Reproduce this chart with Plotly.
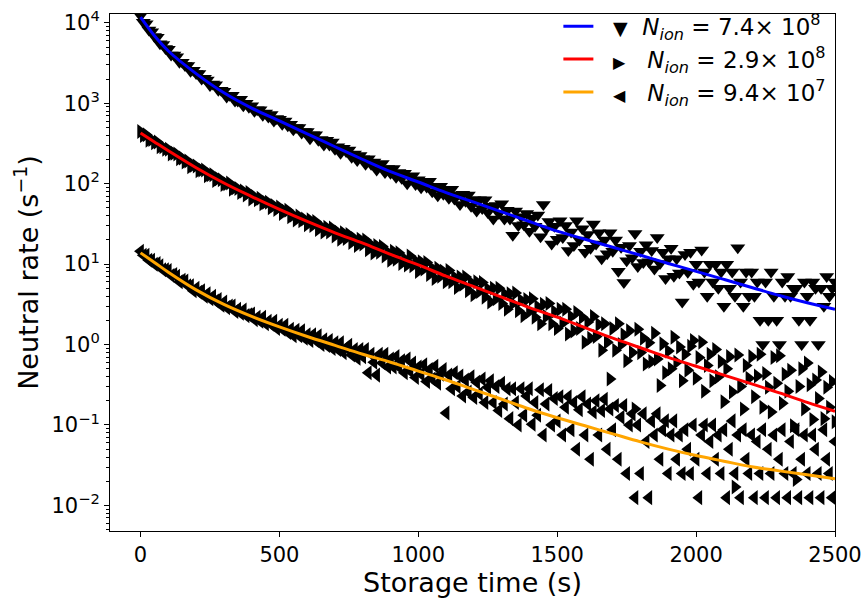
import plotly.graph_objects as go

# Storage-time bins (s) of the measured neutral rates
T = list(range(0, 2501, 10))

RATE_74E8 = [
    12300, 10200, 9770, 8130, 7760, 6760, 6610, 5500, 5370, 4790,
    4680, 3980, 3980, 3800, 3240, 3240, 2950, 2950, 2510, 2570,
    2340, 2340, 2000, 2040, 1950, 1660, 1740, 1700, 1450, 1450,
    1410, 1200, 1260, 1260, 1070, 1070, 1120, 933, 1000, 891,
    933, 794, 832, 832, 708, 759, 676, 724, 603, 646,
    631, 550, 603, 525, 550, 468, 501, 501, 427, 447,
    447, 363, 407, 407, 347, 355, 302, 347, 302, 331,
    269, 288, 240, 275, 251, 263, 214, 234, 195, 224,
    204, 174, 204, 174, 186, 148, 170, 178, 138, 155,
    135, 155, 120, 138, 117, 135, 100, 120, 126, 97.7,
    112, 89.1, 107, 91.2, 107, 79.4, 93.3, 70.8, 93.3, 74.1,
    85.1, 66.1, 85.1, 64.6, 72.4, 55.0, 74.1, 60.3, 72.4, 52.5,
    63.1, 45.7, 63.1, 49.0, 63.1, 43.7, 52.5, 36.3, 53.7, 42.7,
    56.2, 36.3, 46.8, 36.3, 22.9, 45.7, 30.2, 38.9, 30.9, 42.7,
    25.7, 37.2, 29.5, 40.7, 21.9, 55.0, 27.5, 33.9, 17.8, 29.5,
    20.4, 34.7, 21.4, 30.2, 14.8, 25.1, 17.0, 34.7, 20.0, 27.5,
    14.1, 23.4, 15.8, 31.6, 17.8, 24.5, 11.7, 20.0, 13.5, 24.5,
    14.5, 20.0, 8.13, 16.2, 5.89, 11.0, 17.0, 12.0, 24.0, 9.33,
    14.5, 10.5, 17.4, 10.7, 14.8, 8.71, 21.4, 10.2, 14.1, 6.61,
    11.7, 15.8, 7.08, 11.7, 7.76, 3.39, 13.2, 7.94, 14.1, 5.62,
    10, 6, 15, 8, 4, 10, 6, 10, 5, 8,
    3, 10, 5, 8, 4, 16, 6, 3, 8, 4,
    8, 4, 6, 2, 1, 6, 2, 8, 4, 2,
    1, 6, 4, 7, 4, 5, 5, 2, 1, 6,
    4, 2, 6, 5, 1, 5, 3, 7, 4, 5,
    6,
]

RATE_29E8 = [
    447, 398, 407, 347, 355, 324, 331, 288, 288, 269,
    269, 234, 240, 234, 204, 209, 186, 191, 162, 170,
    166, 145, 148, 148, 126, 129, 129, 110, 115, 112,
    97.7, 100, 102, 85.1, 89.1, 87.1, 77.6, 81.3, 72.4, 77.6,
    64.6, 69.2, 63.1, 66.1, 56.2, 58.9, 58.9, 50.1, 53.7, 47.9,
    51.3, 42.7, 45.7, 46.8, 38.9, 40.7, 35.5, 39.8, 34.7, 36.3,
    30.9, 35.5, 30.2, 33.9, 26.9, 29.5, 25.1, 28.8, 25.1, 28.2,
    22.4, 25.1, 20.4, 24.5, 20.9, 23.4, 18.6, 20.9, 17.0, 20.4,
    17.8, 20.0, 15.1, 17.4, 13.8, 17.0, 14.1, 16.6, 12.6, 14.1,
    11.2, 14.5, 11.5, 13.8, 10.2, 11.7, 9.77, 12.6, 9.55, 11.0,
    8.13, 10.7, 8.71, 10.5, 7.41, 8.91, 6.61, 8.91, 7.08, 8.13,
    6.03, 8.32, 6.03, 6.92, 5.13, 6.92, 5.62, 6.92, 4.68, 5.89,
    4.17, 6.03, 4.57, 5.89, 3.89, 4.90, 3.39, 5.01, 3.72, 5.01,
    3.24, 4.27, 2.75, 4.27, 3.24, 4.37, 2.63, 3.55, 2.29, 3.63,
    2.57, 3.72, 2.19, 2.95, 1.82, 3.16, 2.24, 3.24, 1.82, 2.57,
    1.58, 2.75, 1.86, 2.75, 1.35, 2.24, 1.48, 2.51, 1.58, 2.19,
    1.07, 1.91, 1.20, 2.24, 1.26, 1.78, 0.851, 1.82, 1.07, 0.372,
    1.58, 0.851, 1.82, 1.00, 1.32, 0.631, 1.48, 0.794, 0.158, 1.55,
    0.794, 1.20, 0.575, 1.05, 0.617, 1.38, 0.661, 0.309, 1.02, 0.447,
    0.832, 0.501, 1.23, 0.603, 0.933, 0.355, 0.759, 0.479, 0.955, 1.12,
    0.380, 0.692, 1.07, 0.263, 0.550, 0.759, 0.355, 0.871, 0.398, 0.617,
    0.195, 0.501, 0.708, 0.257, 0.017, 0.741, 0.302, 0.158, 0.550, 0.380,
    0.708, 0.224, 0.407, 0.759, 0.166, 0.437, 0.295, 0.145, 0.692, 0.331,
    0.724, 0.186, 0.427, 0.263, 0.479, 0.098, 0.021, 0.302, 0.501, 0.158,
    0.589, 0.316, 0.117, 0.363, 0.214, 0.457, 0.120, 0.295, 0.166, 0.347,
    0.110,
]

RATE_94E7 = [
    14.5, 12.9, 12.9, 11.2, 11.2, 10.0, 10.2, 9.55, 8.51, 8.51,
    8.32, 7.24, 7.41, 7.08, 6.03, 6.31, 6.17, 5.37, 5.37, 4.68,
    5.01, 4.47, 4.68, 3.98, 4.27, 3.72, 3.98, 3.47, 3.63, 3.09,
    3.39, 2.88, 3.02, 3.02, 2.57, 2.75, 2.45, 2.69, 2.29, 2.34,
    2.40, 2.04, 2.19, 1.95, 2.19, 1.82, 1.95, 1.78, 1.95, 1.58,
    1.74, 1.55, 1.74, 1.41, 1.55, 1.29, 1.51, 1.29, 1.48, 1.20,
    1.32, 1.12, 1.32, 1.12, 1.29, 1.00, 1.15, 0.977, 1.12, 0.891,
    1.05, 0.871, 1.05, 0.794, 0.912, 0.977, 0.741, 0.871, 0.676, 0.871,
    0.708, 0.871, 0.447, 0.759, 0.603, 0.417, 0.759, 0.589, 0.759, 0.525,
    0.661, 0.525, 0.708, 0.525, 0.631, 0.447, 0.661, 0.468, 0.589, 0.389,
    0.525, 0.427, 0.562, 0.347, 0.490, 0.372, 0.537, 0.331, 0.427, 0.490,
    0.141, 0.417, 0.282, 0.447, 0.302, 0.407, 0.229, 0.363, 0.257, 0.398,
    0.219, 0.339, 0.245, 0.372, 0.191, 0.295, 0.355, 0.191, 0.302, 0.151,
    0.331, 0.182, 0.282, 0.120, 0.282, 0.191, 0.100, 0.282, 0.132, 0.229,
    0.282, 0.102, 0.191, 0.132, 0.275, 0.075, 0.182, 0.269, 0.100, 0.214,
    0.112, 0.224, 0.075, 0.166, 0.224, 0.0875, 0.191, 0.05, 0.155, 0.224,
    0.075, 0.182, 0.0375, 0.145, 0.200, 0.075, 0.151, 0.209, 0.05, 0.158,
    0.0875, 0.175, 0.0375, 0.125, 0.175, 0.025, 0.1, 0.1375, 0.0125, 0.1,
    0.025, 0.1375, 0.0625, 0.0125, 0.1125, 0.075, 0.1375, 0.0375, 0.0875, 0.1125,
    0.025, 0.075, 0.1125, 0.0375, 0.075, 0.025, 0.0875, 0.05, 0.025, 0.1,
    0.0375, 0.0125, 0.075, 0.1, 0.025, 0.0625, 0.1, 0.0375, 0.075, 0.025,
    0.0875, 0.0125, 0.05, 0.1125, 0.025, 0.075, 0.0125, 0.0875, 0.0375, 0.025,
    0.075, 0.0125, 0.0625, 0.025, 0.0875, 0.0125, 0.05, 0.025, 0.075, 0.0125,
    0.0375, 0.0875, 0.025, 0.0125, 0.0625, 0.025, 0.0875, 0.0125, 0.0375, 0.075,
    0.025, 0.0125, 0.075, 0.05, 0.025, 0.0125, 0.0875, 0.0375, 0.025, 0.0125,
    0.0625,
]

# Fitted curves
FIT_T = [0, 50, 100, 200, 300, 400, 500, 600, 700, 800, 900, 1000, 1100, 1200,
         1300, 1400, 1500, 1600, 1700, 1800, 1900, 2000, 2100, 2200, 2300, 2400, 2500]
FIT_74E8 = [11750, 6900, 4470, 2340, 1350, 871, 603, 417, 288, 200, 141, 105, 77.6, 58.9,
            44.7, 33.9, 25.7, 20.4, 16.2, 12.9, 10.2, 8.13, 6.46, 5.13, 4.07, 3.31, 2.75]
FIT_29E8 = [427, 331, 257, 158, 102, 69.2, 47.9, 33.9, 24.5, 18.2, 13.2, 9.77, 7.08, 5.25,
            3.89, 2.88, 2.19, 1.62, 1.20, 0.912, 0.692, 0.537, 0.417, 0.324, 0.251, 0.191, 0.148]
FIT_94E7 = [13.8, 10.5, 7.94, 4.79, 3.16, 2.24, 1.66, 1.26, 0.977, 0.759, 0.603, 0.468, 0.363,
            0.275, 0.209, 0.158, 0.123, 0.0977, 0.0776, 0.0617, 0.0501, 0.0417, 0.0355,
            0.0302, 0.0269, 0.0240, 0.0214]

# Axis ticks
X_TICKS = [0, 500, 1000, 1500, 2000, 2500]
Y_TICKS = [1e-2, 1e-1, 1e0, 1e1, 1e2, 1e3, 1e4]
Y_TICK_TEXT = ["10<sup>−2</sup>", "10<sup>−1</sup>", "10<sup>0</sup>", "10<sup>1</sup>",
               "10<sup>2</sup>", "10<sup>3</sup>", "10<sup>4</sup>"]

LABELS = [
    "&nbsp;&nbsp;<span style='font-size:19px'>▼</span>&nbsp; <i>N</i><sub><i>ion</i></sub> = 7.4× 10<sup>8</sup>",
    "&nbsp;&nbsp;<span style='font-size:16px'>▶</span>&nbsp;&nbsp; <i>N</i><sub><i>ion</i></sub> = 2.9× 10<sup>8</sup>",
    "&nbsp;&nbsp;<span style='font-size:16px'>◀</span>&nbsp;&nbsp; <i>N</i><sub><i>ion</i></sub> = 9.4× 10<sup>7</sup>",
]
COLORS = ["#0000ff", "#ff0000", "#ffa500"]
SYMBOLS = ["triangle-down", "triangle-right", "triangle-left"]

FONT = "DejaVu Sans, Verdana, sans-serif"

fig = go.Figure()
for vals, sym in zip([RATE_74E8, RATE_29E8, RATE_94E7], SYMBOLS):
    fig.add_trace(go.Scatter(
        x=T, y=vals, mode="markers", showlegend=False, hoverinfo="skip",
        marker=dict(symbol=sym, size=13, color="black", line=dict(width=0)),
    ))
for fit, col, lab in zip([FIT_74E8, FIT_29E8, FIT_94E7], COLORS, LABELS):
    fig.add_trace(go.Scatter(
        x=FIT_T, y=fit, mode="lines", name=lab,
        line=dict(color=col, width=3, shape="spline", smoothing=1.0),
    ))

fig.update_layout(
    width=867, height=604,
    margin=dict(l=110, r=29, t=5, b=73),
    paper_bgcolor="white", plot_bgcolor="white",
    font=dict(family=FONT, size=21, color="black"),
    legend=dict(x=0.995, xanchor="right", y=1.018, yanchor="top",
                bgcolor="rgba(0,0,0,0)", borderwidth=0,
                font=dict(family=FONT, size=23, color="black"),
                tracegroupgap=0),
)
fig.update_xaxes(
    range=[-110, 2500], tickvals=X_TICKS,
    ticks="outside", ticklen=5, tickwidth=1, tickcolor="black",
    showline=True, linecolor="black", linewidth=1, mirror=True,
    showgrid=False, zeroline=False,
    tickfont=dict(family=FONT, size=21),
    title=dict(text="Storage time (s)", font=dict(family=FONT, size=27), standoff=4),
)
fig.update_yaxes(
    type="log", range=[-2.318, 4.11], tickvals=Y_TICKS, ticktext=Y_TICK_TEXT,
    ticklabeloverflow="allow",
    ticks="outside", ticklen=5, tickwidth=1, tickcolor="black",
    minor=dict(ticks="outside", ticklen=3, tickwidth=1, tickcolor="black", dtick="D1", showgrid=False),
    showline=True, linecolor="black", linewidth=1, mirror=True,
    showgrid=False, zeroline=False,
    tickfont=dict(family=FONT, size=21),
    title=dict(text="Neutral rate (s<sup>−1</sup>)", font=dict(family=FONT, size=27), standoff=4),
)

fig.write_html("out.html")
